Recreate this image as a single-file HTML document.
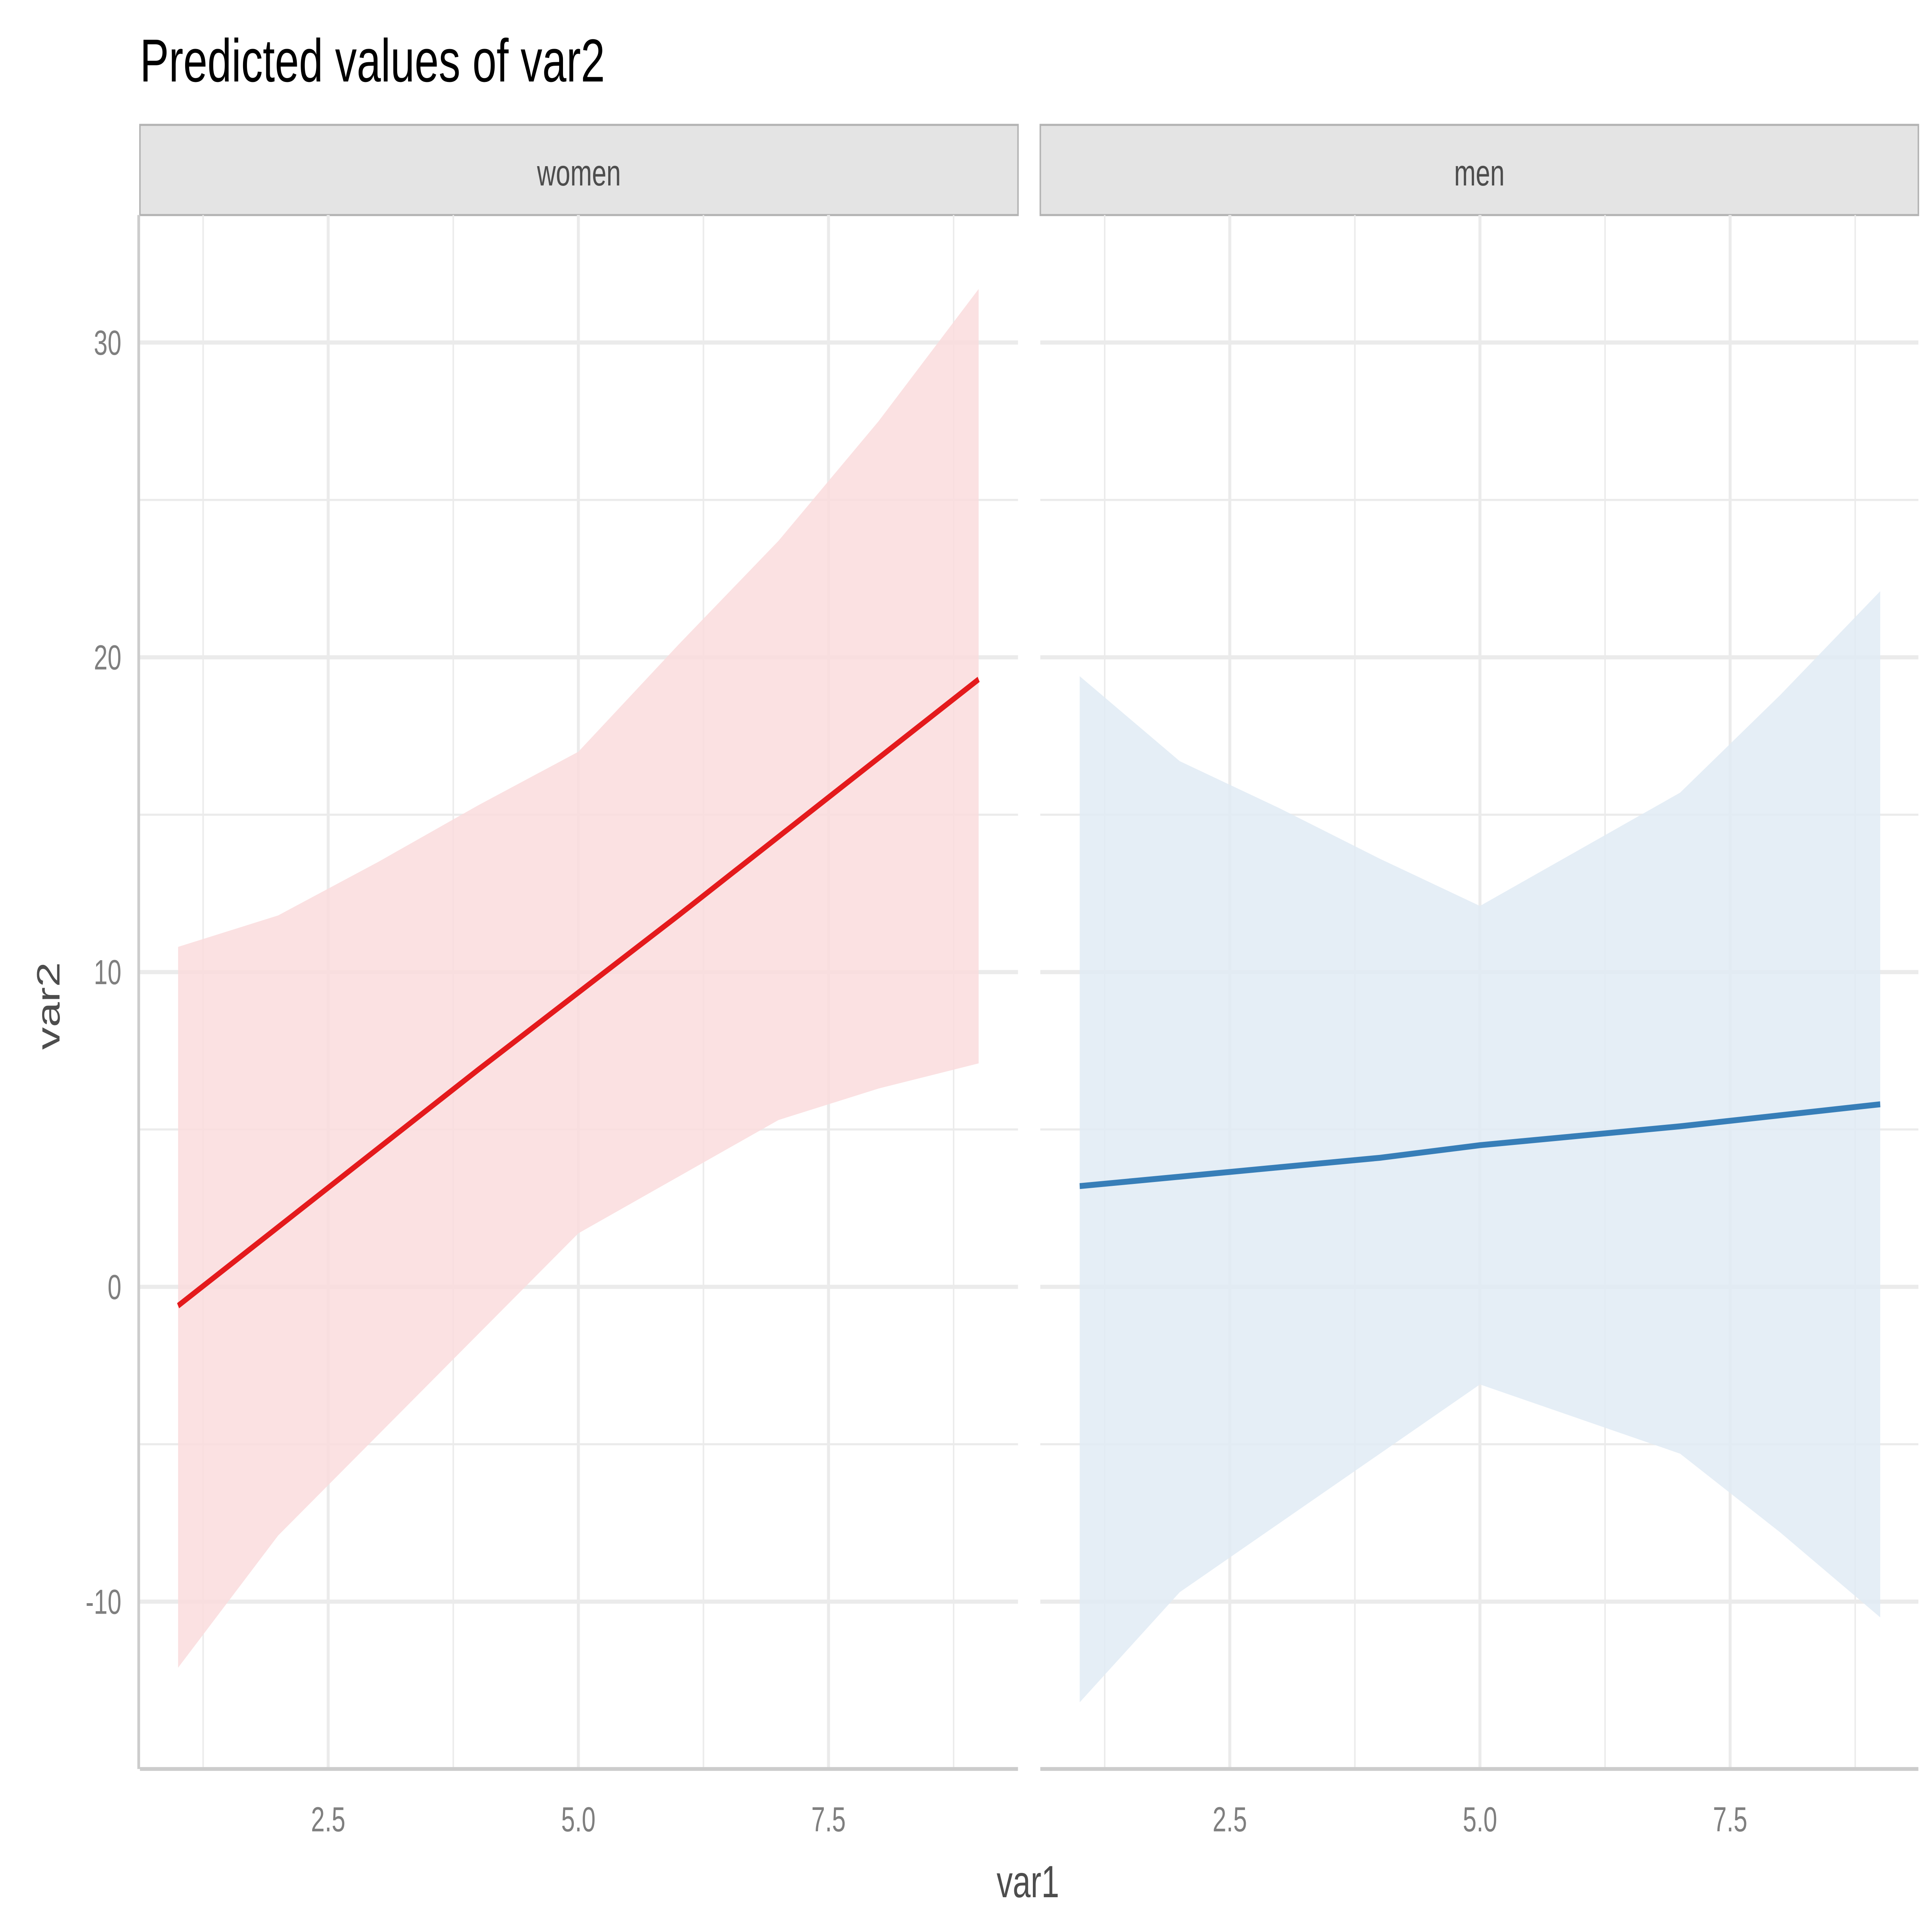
<!DOCTYPE html>
<html><head><meta charset="utf-8"><style>
html,body{margin:0;padding:0;background:#fff;width:100%;height:100%;overflow:hidden;}
svg{display:block;font-family:"Liberation Sans",Arial,sans-serif;width:100vw;height:100vh;}
</style></head><body>
<svg id="chart" viewBox="0 0 1560 1114" preserveAspectRatio="none" xmlns="http://www.w3.org/2000/svg">
<rect width="1560" height="1114" fill="#fff"/>
<text x="113" y="47" font-size="35" fill="#000">Predicted values of var2</text>
<g id="panels"></g>
<text x="830" y="1094" font-size="26" fill="#4d4d4d" text-anchor="middle">var1</text>
<text transform="translate(48,580) rotate(-90)" font-size="26" fill="#4d4d4d" text-anchor="middle">var2</text>
</svg>
<script>
const xs = [1,2,3,4,5,6,7,8,9];
const womenFit = [-0.6,1.9,4.4,6.9,9.35,11.8,14.3,16.8,19.3];
const womenHigh = [10.8,11.8,13.5,15.3,17.0,20.4,23.7,27.5,31.7];
const womenLow = [-12.1,-7.9,-4.7,-1.5,1.7,3.5,5.3,6.3,7.1];
const menFit = [3.2,3.5,3.8,4.1,4.5,4.8,5.1,5.45,5.8];
const menHigh = [19.4,16.7,15.2,13.6,12.1,13.9,15.7,18.8,22.1];
const menLow = [-13.2,-9.7,-7.5,-5.3,-3.1,-4.2,-5.3,-7.8,-10.5];
const panelNames = ["women","men"];
const xTicks = [2.5,5.0,7.5];
const xMinor = [1.25,3.75,6.25,8.75];
const yTicks = [-10,0,10,20,30];
const yMinor = [-5,5,15,25];

const NS = "http://www.w3.org/2000/svg";
const g = document.getElementById("panels");
const yTop = 124, yBot = 1020;
function Y(v){ return 742 - 18.15*v; }
function mk(tag, attrs, parent){
  const e = document.createElementNS(NS, tag);
  for (const k in attrs) e.setAttribute(k, attrs[k]);
  (parent||g).appendChild(e); return e;
}
const panels = [
  {left:113, right:822, x0:467, fit:womenFit, hi:womenHigh, lo:womenLow, fill:"#fadcdd", line:"#e41a1c"},
  {left:840, right:1549, x0:1195, fit:menFit, hi:menHigh, lo:menLow, fill:"#e1ebf4", line:"#377eb8"}
];
panels.forEach((p, i) => {
  const X = v => p.x0 + 80.8*(v-5);
  const pg = mk("g", {});
  
  
  const strip = mk("rect", {x:p.left, y:72, width:p.right-p.left, height:52, fill:"#e4e4e4", stroke:"#b3b3b3", "stroke-width":1.2}, pg);
  
  
  const st = mk("text", {x:(p.left+p.right)/2, y:107, "font-size":21, fill:"#4d4d4d", "text-anchor":"middle"}, pg);
  st.textContent = panelNames[i];
  
  
  yMinor.forEach(v => { const l = mk("line", {x1:p.left, x2:p.right, y1:Y(v), y2:Y(v), stroke:"#ebebeb", "stroke-width":1.2}, pg);
      });
  xMinor.forEach(v => { const l = mk("line", {x1:X(v), x2:X(v), y1:yTop, y2:yBot, stroke:"#ebebeb", "stroke-width":1.2}, pg);
      });
  yTicks.forEach(v => { const l = mk("line", {x1:p.left, x2:p.right, y1:Y(v), y2:Y(v), stroke:"#ebebeb", "stroke-width":2.4}, pg);
      });
  xTicks.forEach(v => { const l = mk("line", {x1:X(v), x2:X(v), y1:yTop, y2:yBot, stroke:"#ebebeb", "stroke-width":2.4}, pg);
     
    const t = mk("text", {x:X(v), y:1056, "font-size":20, fill:"#7f7f7f", "text-anchor":"middle"}, pg);
    t.textContent = v.toFixed(1);
      });
  let d = xs.map((x,k)=>(k?"L":"M")+X(x)+","+Y(p.hi[k])).join(" ");
  for (let k = xs.length-1; k >= 0; k--) d += " L"+X(xs[k])+","+Y(p.lo[k]);
  const band = mk("path", {d:d+" Z", fill:p.fill, "fill-opacity":0.85}, pg);
  
  
  const ln = mk("polyline", {points:xs.map((x,k)=>X(x)+","+Y(p.fit[k])).join(" "), fill:"none", stroke:p.line, "stroke-width":3.4}, pg);
  
  
  const ax = mk("line", {x1:p.left, x2:p.right, y1:yBot, y2:yBot, stroke:"#cccccc", "stroke-width":2.2}, pg);
   
  if (i === 0) {
    const ay = mk("line", {x1:112, x2:112, y1:yTop, y2:yBot, stroke:"#cccccc", "stroke-width":2.2}, pg);
     
    yTicks.forEach(v => { const t = mk("text", {x:98, y:Y(v)+7, "font-size":20, fill:"#7f7f7f", "text-anchor":"end"}, pg);
      t.textContent = v;
        });
  }
});
</script>
</body></html>
